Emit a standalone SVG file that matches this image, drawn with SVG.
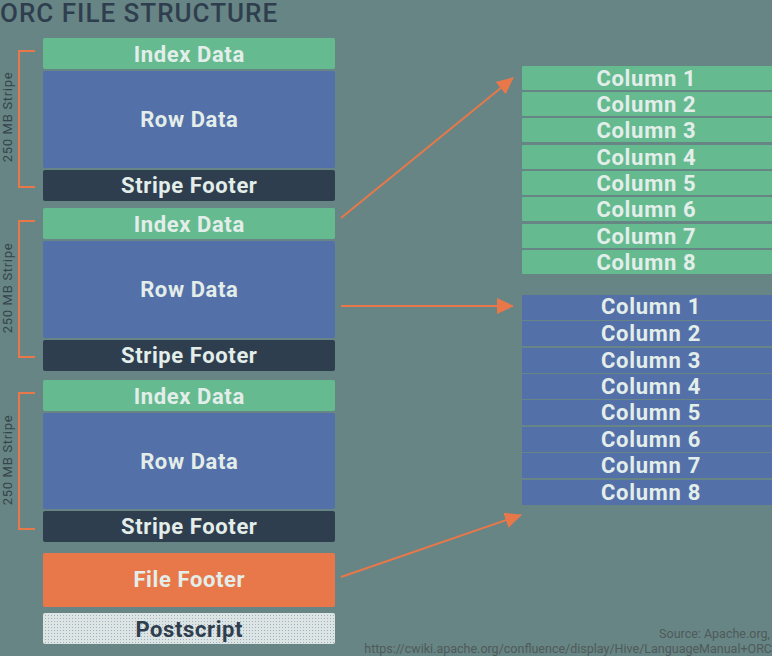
<svg xmlns="http://www.w3.org/2000/svg" width="772" height="656" viewBox="0 0 772 656">
<defs>
<style>
.lbl{font-family:Roboto,"Liberation Sans",sans-serif;font-weight:bold;font-size:22px;letter-spacing:0.6px;fill:#E3EEEA;text-anchor:middle;}
.col{font-family:Roboto,"Liberation Sans",sans-serif;font-weight:bold;font-size:22px;letter-spacing:0.7px;fill:#E3EEEA;text-anchor:middle;}
.g{fill:#65BB8F;}
.b{fill:#5470A8;}
.d{fill:#2F3E4E;}
.o{fill:#E8784A;}
.br{fill:none;stroke:#E8784A;stroke-width:2;}
.side{font-family:Roboto,"Liberation Sans",sans-serif;font-size:13px;letter-spacing:0.7px;fill:#34444C;text-anchor:middle;}
.conn{stroke:#E8784A;stroke-width:2;fill:none;}
.src{font-family:Roboto,"Liberation Sans",sans-serif;font-size:12.5px;fill:#4F5A5A;text-anchor:end;}
</style>
<marker id="ah2" markerWidth="18" markerHeight="18" refX="16" refY="9" orient="auto" markerUnits="userSpaceOnUse" viewBox="0 0 18 18">
<path d="M0,1 L17,9 L0,17 Z" fill="#E8784A"/>
</marker>
<pattern id="dots" width="3" height="3" patternUnits="userSpaceOnUse">
<rect width="3" height="3" fill="#DDE5E4"/>
<rect width="1" height="1" fill="#9FB0C0"/>
</pattern>
</defs>
<rect width="772" height="656" fill="#678584"/>
<text x="0" y="22" font-family="Roboto,'Liberation Sans',sans-serif" font-size="26" font-weight="500" letter-spacing="1" fill="#2F3E4E">ORC FILE STRUCTURE</text>

<g id="stripe1">
<rect class="g" x="43" y="38" width="292" height="31" rx="2"/>
<text class="lbl" x="189.3" y="62">Index Data</text>
<rect class="b" x="43" y="71" width="292" height="97" rx="2"/>
<text class="lbl" x="189.3" y="127">Row Data</text>
<rect class="d" x="43" y="170" width="292" height="31" rx="2"/>
<text class="lbl" x="189.3" y="193">Stripe Footer</text>
<path class="br" d="M35,51 H19 V187 H35"/>
<text class="side" transform="translate(12,117) rotate(-90)">250 MB Stripe</text>
</g>

<g id="stripe2">
<rect class="g" x="43" y="208" width="292" height="31" rx="2"/>
<text class="lbl" x="189.3" y="232">Index Data</text>
<rect class="b" x="43" y="241" width="292" height="97" rx="2"/>
<text class="lbl" x="189.3" y="297">Row Data</text>
<rect class="d" x="43" y="340" width="292" height="31" rx="2"/>
<text class="lbl" x="189.3" y="363">Stripe Footer</text>
<path class="br" d="M35,221 H19 V357 H35"/>
<text class="side" transform="translate(12,288) rotate(-90)">250 MB Stripe</text>
</g>

<g id="stripe3">
<rect class="g" x="43" y="380" width="292" height="31" rx="2"/>
<text class="lbl" x="189.3" y="404">Index Data</text>
<rect class="b" x="43" y="413" width="292" height="96" rx="2"/>
<text class="lbl" x="189.3" y="469">Row Data</text>
<rect class="d" x="43" y="511" width="292" height="31" rx="2"/>
<text class="lbl" x="189.3" y="534">Stripe Footer</text>
<path class="br" d="M35,393 H19 V529 H35"/>
<text class="side" transform="translate(12,460) rotate(-90)">250 MB Stripe</text>
</g>

<g id="file-footer">
<rect class="o" x="43" y="553" width="292" height="54" rx="2"/>
<text class="lbl" x="189.3" y="587">File Footer</text>
</g>
<g id="postscript">
<rect x="43" y="613" width="292" height="31" rx="2" fill="url(#dots)"/>
<text class="lbl" x="189.3" y="637" style="fill:#2F3E4E">Postscript</text>
</g>

<g id="index-columns">
<rect class="g" x="522" y="66" width="250" height="24" rx="1"/><text class="col" x="646.4" y="86">Column 1</text>
<rect class="g" x="522" y="92" width="250" height="24" rx="1"/><text class="col" x="646.4" y="112">Column 2</text>
<rect class="g" x="522" y="118" width="250" height="24" rx="1"/><text class="col" x="646.4" y="138">Column 3</text>
<rect class="g" x="522" y="145" width="250" height="24" rx="1"/><text class="col" x="646.4" y="165">Column 4</text>
<rect class="g" x="522" y="171" width="250" height="24" rx="1"/><text class="col" x="646.4" y="191">Column 5</text>
<rect class="g" x="522" y="197" width="250" height="24" rx="1"/><text class="col" x="646.4" y="217">Column 6</text>
<rect class="g" x="522" y="224" width="250" height="24" rx="1"/><text class="col" x="646.4" y="244">Column 7</text>
<rect class="g" x="522" y="250" width="250" height="24" rx="1"/><text class="col" x="646.4" y="270">Column 8</text>
</g>

<g id="row-columns">
<rect class="b" x="522" y="295" width="250" height="25"/><text class="col" x="651" y="314">Column 1</text>
<rect class="b" x="522" y="321" width="250" height="25"/><text class="col" x="651" y="341">Column 2</text>
<rect class="b" x="522" y="348" width="250" height="25"/><text class="col" x="651" y="368">Column 3</text>
<rect class="b" x="522" y="374" width="250" height="25"/><text class="col" x="651" y="394">Column 4</text>
<rect class="b" x="522" y="400" width="250" height="25"/><text class="col" x="651" y="420">Column 5</text>
<rect class="b" x="522" y="427" width="250" height="25"/><text class="col" x="651" y="447">Column 6</text>
<rect class="b" x="522" y="453" width="250" height="25"/><text class="col" x="651" y="473">Column 7</text>
<rect class="b" x="522" y="480" width="250" height="25"/><text class="col" x="651" y="500">Column 8</text>
</g>

<g id="connectors">
<line class="conn" x1="341" y1="218" x2="513" y2="78" marker-end="url(#ah2)"/>
<line class="conn" x1="341" y1="306" x2="513" y2="306" marker-end="url(#ah2)"/>
<line class="conn" x1="341" y1="577" x2="521" y2="515" marker-end="url(#ah2)"/>
</g>

<text class="src" x="770" y="638">Source: Apache.org,</text>
<text class="src" x="772" y="653">https://cwiki.apache.org/confluence/display/Hive/LanguageManual+ORC</text>
</svg>
